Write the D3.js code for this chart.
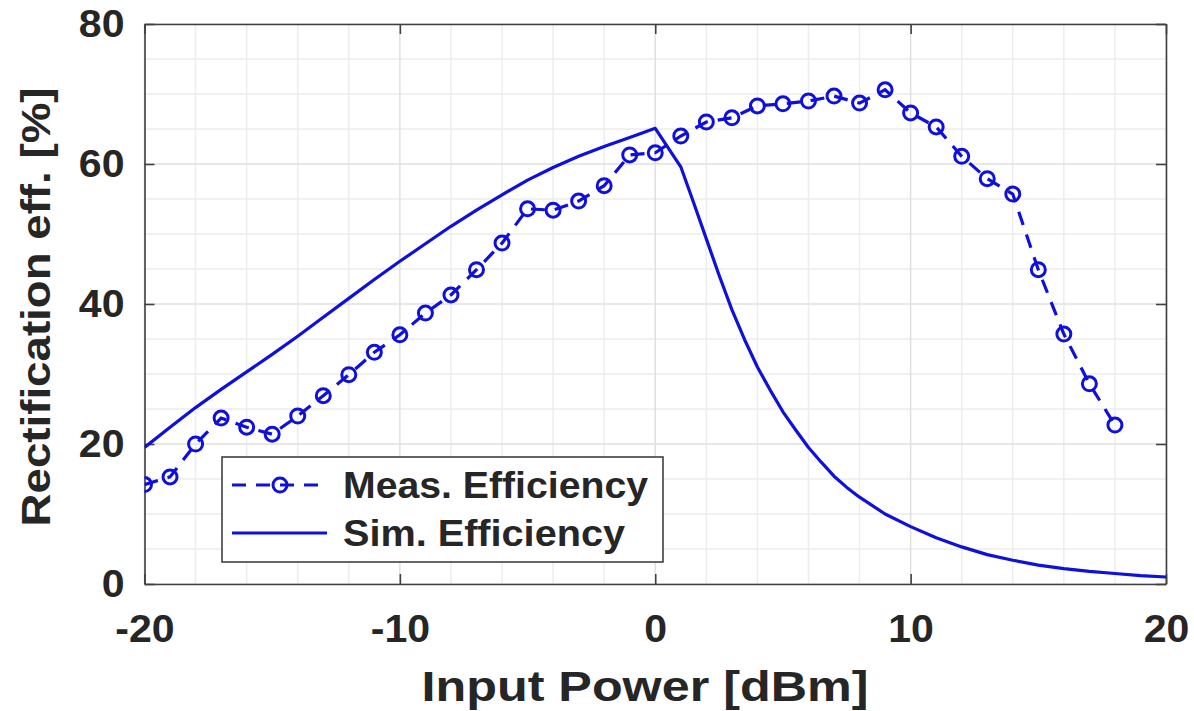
<!DOCTYPE html>
<html>
<head>
<meta charset="utf-8">
<script src="https://cdn.jsdelivr.net/npm/d3@7/dist/d3.min.js"></script>
<style>
body { margin:0; background:#ffffff; }
text { font-family:"Liberation Sans", Arial, sans-serif; font-weight:bold; fill:#262626; }
</style>
</head>
<body>
<div class="chart"></div>
<script>
// measured efficiency (one point per dBm)
var measPower = [-20,-19,-18,-17,-16,-15,-14,-13,-12,-11,-10,-9,-8,-7,-6,-5,-4,-3,-2,-1,0,
    1,2,3,4,5,6,7,8,9,10,11,12,13,14,15,16,17,18];
var measEff = [14.2,15.3,20.0,23.7,22.4,21.4,24.0,26.9,29.9,33.1,35.6,38.7,41.3,44.9,48.7,53.6,53.4,54.7,56.9,61.3,61.6,
    64.0,66.0,66.6,68.3,68.6,69.0,69.7,68.7,70.6,67.3,65.3,61.1,57.9,55.7,44.9,35.7,28.6,22.7];

// simulated efficiency (finer steps where the curve bends)
var simPower = [-20,-19,-18,-17,-16,-15,-14,-13,-12,-11,-10,-9,-8,-7,-6,-5,-4,-3,-2,-1,0,
    1,1.5,2,2.5,3,3.5,4,4.5,5,5.5,6,6.5,7,7.5,8,9,10,11,12,13,14,15,16,17,18,19,20];
var simEff = [19.5,22.4,25.2,27.8,30.3,32.8,35.4,38.1,40.8,43.5,46.1,48.6,51.1,53.4,55.6,57.7,59.5,61.1,62.5,63.8,65.1,
    59.6,54.5,49.3,44.1,39.2,34.9,31.0,27.7,24.6,22.0,19.5,17.4,15.4,13.8,12.4,10.0,8.2,6.6,5.3,4.2,3.4,2.7,2.2,1.8,1.5,1.2,1.0];

// axis ticks
var xTicks = [-20,-10,0,10,20];
var yTicks = [0,20,40,60,80];
var xMinor = [-18,-16,-14,-12,-8,-6,-4,-2,2,4,6,8,12,14,16,18];
var yMinor = [5,10,15,25,30,35,45,50,55,65,70,75];

var seriesNames = ["Meas. Efficiency", "Sim. Efficiency"];

// svg wrapper dimensions
var svgWidth = 1194;
var svgHeight = 711;

var margin = {
    top:24,
    right:28,
    bottom:127,
    left:144.5
};

var width = svgWidth-margin.left-margin.right;
var height = svgHeight-margin.top-margin.bottom;

var blue = "#1010dc";

var svg = d3
    .select(".chart")
    .append("svg")
    .attr("width",svgWidth)
    .attr("height",svgHeight);

var chartGroup = svg.append("g")
    .attr("transform", `translate(${margin.left}, ${margin.top})`);

var xLinearScale = d3.scaleLinear()
    .domain([-20,20])
    .range([0,width]);

var yLinearScale = d3.scaleLinear()
    .domain([0,80])
    .range([height,0]);

svg.append("defs").append("clipPath")
    .attr("id","plotClip")
    .append("rect")
    .attr("width",width)
    .attr("height",height);

// minor grid
chartGroup.append("g").selectAll("line")
    .data(xMinor)
    .enter()
    .append("line")
    .attr("x1", d=>xLinearScale(d))
    .attr("x2", d=>xLinearScale(d))
    .attr("y1",0)
    .attr("y2",height)
    .attr("stroke","#ededed")
    .attr("stroke-width",1.5);

chartGroup.append("g").selectAll("line")
    .data(yMinor)
    .enter()
    .append("line")
    .attr("y1", d=>yLinearScale(d))
    .attr("y2", d=>yLinearScale(d))
    .attr("x1",0)
    .attr("x2",width)
    .attr("stroke","#ededed")
    .attr("stroke-width",1.5);

// major grid
chartGroup.append("g").selectAll("line")
    .data(xTicks)
    .enter()
    .append("line")
    .attr("x1", d=>xLinearScale(d))
    .attr("x2", d=>xLinearScale(d))
    .attr("y1",0)
    .attr("y2",height)
    .attr("stroke","#e0e0e0")
    .attr("stroke-width",1.5);

chartGroup.append("g").selectAll("line")
    .data(yTicks)
    .enter()
    .append("line")
    .attr("y1", d=>yLinearScale(d))
    .attr("y2", d=>yLinearScale(d))
    .attr("x1",0)
    .attr("x2",width)
    .attr("stroke","#e0e0e0")
    .attr("stroke-width",1.5);

// axes (ticks pointing inwards, matlab style), plain hyphen for negatives
var fmt = d => String(d);
var bottomAxis = d3.axisBottom(xLinearScale).tickValues(xTicks).tickFormat(fmt).tickSizeInner(-10).tickSizeOuter(0).tickPadding(31);
var leftAxis = d3.axisLeft(yLinearScale).tickValues(yTicks).tickFormat(fmt).tickSizeInner(-10).tickSizeOuter(0).tickPadding(20);
var topAxis = d3.axisTop(xLinearScale).tickValues(xTicks).tickSizeInner(-10).tickSizeOuter(0).tickFormat("");
var rightAxis = d3.axisRight(yLinearScale).tickValues(yTicks).tickSizeInner(-10).tickSizeOuter(0).tickFormat("");

var xAxis = chartGroup.append("g")
    .attr("transform",`translate(0,${height})`)
    .call(bottomAxis);

var yAxis = chartGroup.append("g")
    .call(leftAxis);

chartGroup.append("g").call(topAxis);
chartGroup.append("g").attr("transform",`translate(${width},0)`).call(rightAxis);

chartGroup.selectAll(".domain").attr("stroke","#404040").attr("stroke-width",1.6);
chartGroup.selectAll(".tick line").attr("stroke","#404040").attr("stroke-width",1.6);

xAxis.selectAll("text")
    .attr("font-size",38)
    .attr("dy","0.71em")
    .style("font-family","'Liberation Sans', Arial, sans-serif")
    .style("font-weight","bold")
    .attr("fill","#262626");

yAxis.selectAll("text")
    .attr("font-size",38)
    .style("font-family","'Liberation Sans', Arial, sans-serif")
    .style("font-weight","bold")
    .attr("fill","#262626");

// stretch tick labels a little wider like the original
chartGroup.selectAll(".tick text").each(function() {
    var t = d3.select(this);
    var w = this.getComputedTextLength();
    t.attr("textLength", w*1.08).attr("lengthAdjust","spacingAndGlyphs");
});

// simulated line
var simLine = d3.line()
    .x(d=>xLinearScale(d[0]))
    .y(d=>yLinearScale(d[1]));

var plotGroup = chartGroup.append("g")
    .attr("clip-path","url(#plotClip)");

plotGroup.append("path")
    .datum(simPower.map((p,i) => [p, simEff[i]]))
    .attr("d", simLine)
    .attr("fill","none")
    .attr("stroke",blue)
    .attr("stroke-width",3.2)
    .attr("stroke-linejoin","round");

// measured dashed line with markers
plotGroup.append("path")
    .datum(measPower.map((p,i) => [p, measEff[i]]))
    .attr("d", simLine)
    .attr("fill","none")
    .attr("stroke",blue)
    .attr("stroke-width",3.2)
    .attr("stroke-dasharray","14,10");

plotGroup.selectAll("circle")
    .data(measPower.map((p,i) => [p, measEff[i]]))
    .enter()
    .append("circle")
    .attr("cx", d=>xLinearScale(d[0]))
    .attr("cy", d=>yLinearScale(d[1]))
    .attr("r",7)
    .attr("fill","none")
    .attr("stroke",blue)
    .attr("stroke-width",3);

// legend
var legend = svg.append("g");

legend.append("rect")
    .attr("x",222)
    .attr("y",457)
    .attr("width",441)
    .attr("height",105)
    .attr("fill","#ffffff")
    .attr("stroke","#404040")
    .attr("stroke-width",1.6);

legend.append("line")
    .attr("x1",232).attr("x2",327)
    .attr("y1",485).attr("y2",485)
    .attr("stroke",blue)
    .attr("stroke-width",3.2)
    .attr("stroke-dasharray","14,10");

legend.append("circle")
    .attr("cx",280).attr("cy",485).attr("r",7)
    .attr("fill","none")
    .attr("stroke",blue)
    .attr("stroke-width",3);

legend.append("line")
    .attr("x1",232).attr("x2",327)
    .attr("y1",533).attr("y2",533)
    .attr("stroke",blue)
    .attr("stroke-width",3.2);

legend.append("text")
    .attr("x",343).attr("y",498)
    .attr("font-size",36)
    .attr("textLength",305)
    .attr("lengthAdjust","spacingAndGlyphs")
    .text(seriesNames[0]);

legend.append("text")
    .attr("x",343).attr("y",546)
    .attr("font-size",36)
    .attr("textLength",282)
    .attr("lengthAdjust","spacingAndGlyphs")
    .text(seriesNames[1]);

// axis titles
svg.append("text")
    .attr("x",645)
    .attr("y",701)
    .attr("text-anchor","middle")
    .attr("font-size",43)
    .attr("textLength",447)
    .attr("lengthAdjust","spacingAndGlyphs")
    .text("Input Power [dBm]");

svg.append("text")
    .attr("transform","translate(50,307) rotate(-90)")
    .attr("text-anchor","middle")
    .attr("font-size",40)
    .attr("textLength",439)
    .attr("lengthAdjust","spacingAndGlyphs")
    .text("Rectification eff. [%]");
</script>
</body>
</html>
